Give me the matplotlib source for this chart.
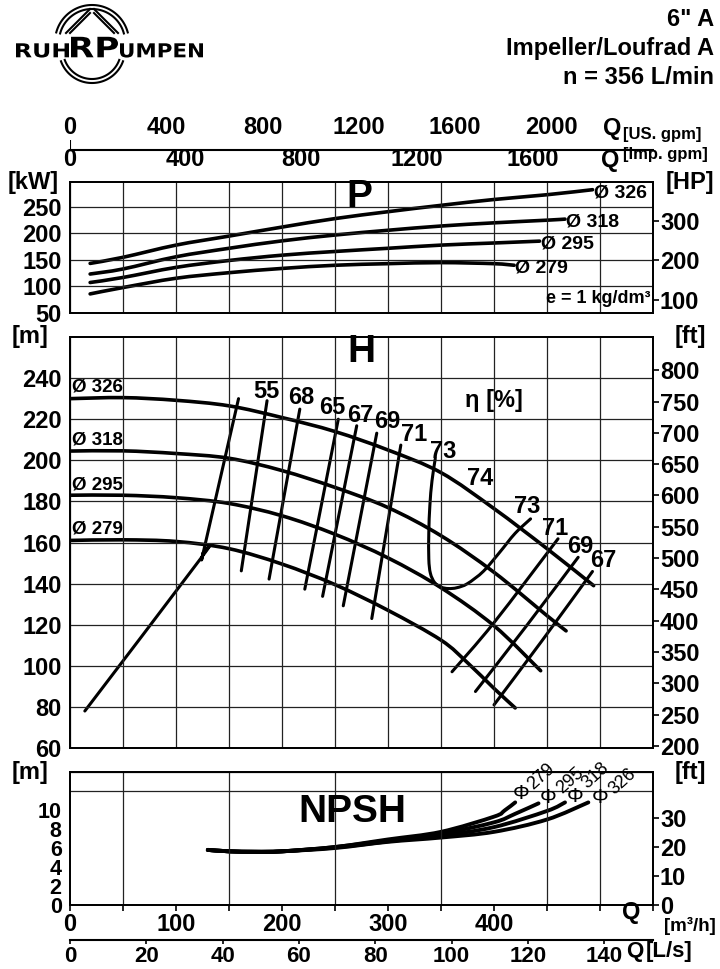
import numpy as np
import matplotlib
matplotlib.use("Agg")
import matplotlib.pyplot as plt
from matplotlib.textpath import TextPath
from matplotlib.patches import PathPatch
from matplotlib.path import Path
from matplotlib.font_manager import FontProperties
from matplotlib.transforms import Affine2D

plt.rcParams['font.family'] = ['Liberation Sans', 'DejaVu Sans']
plt.rcParams['font.weight'] = 'bold'

# ---- data (Q in m3/h) ----
diameters = ["326", "318", "295", "279"]

# power curves [kW]
p_q = {
    "326": [19, 50, 100, 150, 200, 250, 300, 350, 400, 450, 493],
    "318": [19, 50, 100, 150, 200, 250, 300, 350, 400, 450, 467],
    "295": [19, 50, 100, 150, 200, 250, 300, 350, 400, 443],
    "279": [19, 50, 100, 150, 200, 250, 300, 350, 400, 419],
}
p_kw = {
    "326": [143.5, 155, 178, 195, 212, 228, 241, 253, 264, 273, 282.5],
    "318": [123.5, 133, 156, 172, 186, 197, 206, 214, 220, 225, 227],
    "295": [107.5, 117, 136, 149, 159, 166, 172, 178, 182, 185.5],
    "279": [86, 98, 115.5, 126, 134, 140, 143, 145, 143, 140],
}

# head curves [m]
h_q = {
    "326": [0, 50, 100, 150, 200, 250, 300, 350, 400, 450, 494],
    "318": [0, 50, 100, 150, 200, 250, 300, 350, 400, 450, 468],
    "295": [0, 50, 100, 150, 200, 250, 300, 350, 400, 444],
    "279": [0, 50, 100, 150, 200, 250, 300, 350, 375, 400, 420],
}
h_m = {
    "326": [230, 230.5, 229.2, 226.5, 220.8, 214, 205, 194, 176.5, 157, 139],
    "318": [204.5, 204.6, 203.3, 201, 195, 186.8, 177, 163.3, 145.5, 124.4, 117],
    "295": [183, 183, 181.8, 179, 173, 164, 152.5, 138, 119.5, 97.6],
    "279": [161, 161.3, 160.5, 157, 149.5, 139.5, 127, 112.5, 101.5, 89, 79.5],
}

# efficiency lines (Q, H)
eff_lines = [
    ([14, 123, 125.5, 127, 159], [78, 152, 155, 158, 230]),
    ([161.6, 185.9], [146.2, 229]),
    ([187.8, 216.8], [142.2, 224.9]),
    ([221.5, 253.1], [137.3, 220]),
    ([238.3, 270.5], [133.8, 216.8]),
    ([257.8, 289.4], [129.2, 213.2]),
    ([284.7, 312.1], [123, 207.4]),
    ([344.6, 341.5, 339.5, 338.5, 338.5, 340, 344, 350, 357, 365, 375, 390, 405, 420, 434.5],
     [200.8, 190, 178, 165, 152, 145, 140.5, 138.3, 137.6, 138, 140, 146, 155, 164.5, 171.5]),
    ([360.4, 400, 460.4], [97.1, 121, 161.8]),
    ([382.5, 430, 479.4], [87.5, 119, 152.8]),
    ([400, 445, 492.9], [81, 112, 145.9]),
]
eff_labels = ["55", "68", "65", "67", "69", "71", "73", "74", "73", "71", "69", "67"]
eff_label_q = [185.5, 217.7, 247.7, 274.2, 299.5, 324.4, 351.6, 387.2, 431.4, 457.3, 480.9, 503]
eff_label_h = [233.3, 230.6, 225.7, 222, 218.8, 212.6, 204.4, 191.2, 177.7, 167, 158.2, 151]

# NPSH curves [m]
n_q = {
    "279": [130, 150, 175, 200, 250, 300, 350, 400, 410, 420],
    "295": [130, 150, 175, 200, 250, 300, 350, 400, 420, 442],
    "318": [130, 150, 175, 200, 250, 300, 350, 400, 450, 467],
    "326": [130, 150, 175, 200, 250, 300, 350, 400, 450, 489],
}
n_m = {
    "279": [5.8, 5.65, 5.6, 5.65, 6.1, 6.9, 7.7, 9.3, 9.95, 10.8],
    "295": [5.8, 5.65, 5.6, 5.65, 6.1, 6.8, 7.5, 8.7, 9.6, 10.7],
    "318": [5.8, 5.65, 5.6, 5.65, 6.05, 6.7, 7.3, 8.2, 9.9, 10.8],
    "326": [5.8, 5.65, 5.6, 5.65, 6.0, 6.65, 7.1, 7.7, 9.0, 10.8],
}

W, H = 720, 969


def box(x0, y0, x1, y1):
    return [x0 / W, 1 - y1 / H, (x1 - x0) / W, (y1 - y0) / H]


def ftext(x, y, s, **kw):
    fig.text(x / W, 1 - y / H, s, **kw)


def curve(ax, q, v, lw):
    # smooth line through the read points (Catmull-Rom as bezier path)
    pts = np.column_stack([q, v]).astype(float)
    n = len(pts)
    verts, codes = [pts[0]], [Path.MOVETO]
    for i in range(n - 1):
        p0 = pts[i - 1] if i > 0 else pts[i]
        p1, p2 = pts[i], pts[i + 1]
        p3 = pts[i + 2] if i + 2 < n else pts[i + 1]
        verts += [p1 + (p2 - p0) / 6, p2 - (p3 - p1) / 6, p2]
        codes += [Path.CURVE4] * 3
    ax.add_patch(PathPatch(Path(verts, codes), fill=False, lw=lw, color="k",
                           capstyle="round", joinstyle="round"))


fig = plt.figure(figsize=(7.2, 9.69), dpi=100)
GRID = dict(color="#222222", lw=0.9)
TS = 17

# ---- logo ----
axLogo = fig.add_axes(box(0, 0, 240, 90))
axLogo.set_xlim(0, 240)
axLogo.set_ylim(90, 0)
axLogo.axis("off")
t = np.radians(np.linspace(15, 165, 80))
for r in (37, 33):
    axLogo.plot(92 + r * np.cos(t), 42 - r * np.sin(t), color="k", lw=1.5)
for off in (0, 4):
    axLogo.plot([66 + off, 90], [33, 9 + off], color="k", lw=1.5)
    axLogo.plot([118 - off, 94], [33, 9 + off], color="k", lw=1.5)
t = np.radians(np.linspace(200, 340, 80))
for r in (33, 29):
    axLogo.plot(92 + r * np.cos(t), 50 - r * np.sin(t), color="k", lw=1.5)
fp = FontProperties(family="DejaVu Sans", weight="bold")
for word, x0, x1, hgt in [("RUH", 16, 69, 14), ("RP", 71, 118, 20.5), ("UMPEN", 120, 203, 14)]:
    tp = TextPath((0, 0), word, size=1, prop=fp)
    bb = tp.get_extents()
    tr = Affine2D().translate(-bb.x0, 0).scale((x1 - x0) / bb.width, -hgt / bb.y1).translate(x0, 57.3)
    axLogo.add_patch(PathPatch(tr.transform_path(tp), color="k", lw=0))

ftext(714, 19, '6" A', ha="right", va="center", fontsize=17)
ftext(714, 48, "Impeller/Loufrad A", ha="right", va="center", fontsize=17)
ftext(714, 77, "n = 356 L/min", ha="right", va="center", fontsize=17)

# ---- US gpm axis ----
axU = fig.add_axes(box(70, 140, 653, 150))
axU.set_xlim(0, 550 * 4.4029)
axU.set_ylim(0, 1)
for s in ("top", "left", "right"):
    axU.spines[s].set_visible(False)
axU.spines["bottom"].set_linewidth(1.5)
axU.xaxis.tick_top()
axU.set_xticks([0, 400, 800, 1200, 1600, 2000])
axU.tick_params(axis="x", length=0, pad=1, labelsize=TS)
axU.set_yticks([])
axU.axvline(0, color="k", lw=1.5)
ftext(612, 128, "Q", ha="center", va="center", fontsize=TS)
ftext(623, 135, "[US. gpm]", ha="left", va="center", fontsize=12)

# ---- P panel ----
axP = fig.add_axes(box(70, 182, 653, 313))
axP.set_xlim(0, 550)
axP.set_ylim(50, 297)
axP.set_xticks(np.arange(0, 551, 50))
axP.set_xticklabels([])
axP.set_yticks([50, 100, 150, 200, 250])
axP.tick_params(length=0, labelsize=TS, pad=6)
axP.grid(True, **GRID)
for d in diameters:
    curve(axP, p_q[d], p_kw[d], 2.6)
    axP.text(p_q[d][-1] + 1, p_kw[d][-1] - 6, "Ø " + d, ha="left", va="center", fontsize=14)
axP.text(273, 268, "P", ha="center", va="center", fontsize=28)
axP.text(548, 78, "e = 1 kg/dm³", ha="right", va="center", fontsize=13)
secP = axP.secondary_xaxis("top", functions=(lambda q: q * 3.6662, lambda g: g / 3.6662))
secP.set_xticks([0, 400, 800, 1200, 1600])
secP.tick_params(length=0, pad=8, labelsize=TS)
secP.spines["top"].set_visible(False)
axP2 = axP.twinx()
axP2.set_ylim(50 * 1.341, 297 * 1.341)
axP2.set_yticks([100, 200, 300])
axP2.tick_params(length=4, width=1.2, labelsize=TS, pad=1)
ftext(610, 160, "Q", ha="center", va="center", fontsize=TS)
ftext(623, 155, "[Imp. gpm]", ha="left", va="center", fontsize=12)
ftext(33, 182, "[kW]", ha="center", va="center", fontsize=TS)
ftext(690, 182, "[HP]", ha="center", va="center", fontsize=TS)

# ---- H panel ----
axH = fig.add_axes(box(70, 337, 653, 748))
axH.set_xlim(0, 550)
axH.set_ylim(60, 260)
axH.set_xticks(np.arange(0, 551, 50))
axH.set_xticklabels([])
axH.set_yticks(np.arange(60, 241, 20))
axH.tick_params(length=0, labelsize=TS, pad=6)
axH.grid(True, **GRID)
for d in diameters:
    curve(axH, h_q[d], h_m[d], 2.6)
for (q, h) in eff_lines:
    curve(axH, q, h, 2.2)
for s, q, h in zip(eff_labels, eff_label_q, eff_label_h):
    axH.text(q, h, s, ha="center", va="center", fontsize=17)
for d, h in zip(diameters, [235.6, 209.8, 187.8, 166.8]):
    axH.text(1.5, h, "Ø " + d, ha="left", va="center", fontsize=13.5)
axH.text(275, 252.5, "H", ha="center", va="center", fontsize=28)
axH.text(400, 229, "η [%]", ha="center", va="center", fontsize=17)
axH2 = axH.twinx()
axH2.set_ylim(60 * 3.2808, 260 * 3.2808)
axH2.set_yticks(np.arange(200, 801, 50))
axH2.tick_params(length=4, width=1.2, labelsize=TS, pad=1)
ftext(30, 337, "[m]", ha="center", va="center", fontsize=TS)
ftext(690, 337, "[ft]", ha="center", va="center", fontsize=TS)

# ---- NPSH panel ----
axN = fig.add_axes(box(70, 772, 653, 905))
axN.set_xlim(0, 550)
axN.set_ylim(0, 14)
axN.set_xticks(np.arange(0, 401, 100))
axN.set_xticks(np.arange(0, 551, 50), minor=True)
axN.set_yticks(np.arange(0, 11, 2))
axN.set_yticks(np.arange(0, 15, 2), minor=True)
axN.tick_params(axis="y", which="both", length=0, labelsize=15.5, pad=6)
axN.tick_params(axis="x", which="both", length=4, width=1.2, labelsize=TS, pad=2)
axN.grid(True, which="minor", **GRID)
for d in ["279", "295", "318", "326"]:
    curve(axN, n_q[d], n_m[d], 2.8)
phi_pos = [(426, 11.7), (451.2, 11.3), (476.4, 11.4), (500, 11.3)]
num_pos = [(445, 13.5), (471.7, 13.1), (496.2, 13.65), (521.4, 12.95)]
for d, (pq, pm), (nq, nm) in zip(["279", "295", "318", "326"], phi_pos, num_pos):
    axN.text(pq, pm, "Φ", ha="center", va="center", fontsize=15, fontweight="normal")
    axN.text(nq, nm, d, ha="center", va="center", fontsize=13, fontweight="normal", rotation=42)
axN.text(266, 9.8, "NPSH", ha="center", va="center", fontsize=28)
axN2 = axN.twinx()
axN2.set_ylim(0, 14 * 3.2808)
axN2.set_yticks([0, 10, 20, 30])
axN2.tick_params(length=4, width=1.2, labelsize=TS, pad=1)
ftext(30, 773, "[m]", ha="center", va="center", fontsize=TS)
ftext(690, 773, "[ft]", ha="center", va="center", fontsize=TS)
ftext(631, 912, "Q", ha="center", va="center", fontsize=TS)
ftext(664, 926, "[m³/h]", ha="left", va="center", fontsize=13.5)

# ---- L/s axis ----
axLs = fig.add_axes(box(70, 933, 653, 940))
axLs.set_xlim(0, 550 / 3.6)
axLs.set_ylim(0, 1)
for s in ("top", "left", "right"):
    axLs.spines[s].set_visible(False)
axLs.spines["bottom"].set_linewidth(1.5)
axLs.set_xticks(np.arange(0, 141, 20))
axLs.set_yticks([])
axLs.tick_params(axis="x", length=3, width=1.2, labelsize=16, pad=1)
ftext(635, 951, "Q", ha="center", va="center", fontsize=16)
ftext(646, 951, "[L/s]", ha="left", va="center", fontsize=16)

for ax in (axP, axH, axN, axP2, axH2, axN2):
    for s in ax.spines.values():
        s.set_linewidth(1.3)

fig.savefig("out.png", dpi=100)
